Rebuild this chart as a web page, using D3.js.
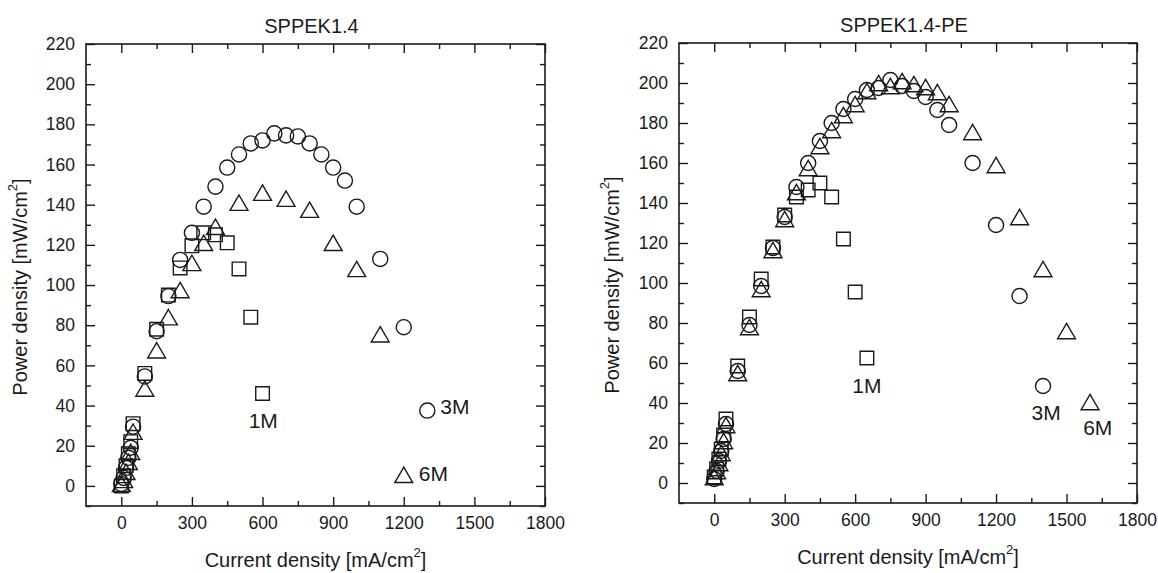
<!DOCTYPE html>
<html>
<head>
<meta charset="utf-8">
<script src="https://cdn.jsdelivr.net/npm/d3@7"></script>
<style>
  body { margin: 0; background: #fff; }
  text { font-family: "Liberation Sans", Arial, sans-serif; fill: #1a1a1a; }
</style>
</head>
<body>
<div id="svg_div"></div>
<script>
// data: [current density, power density]
var left1M = [[0,0],[10,5],[20,10],[30,16],[40,22],[50,31],[100,56],[150,78],[200,95],[250,108.5],
  [300,119.5],[350,126],[400,125],[450,121],[500,108],[550,84],[600,46]];
var left3M = [[0,1],[10,4],[20,9],[30,14],[40,19],[50,29.5],[100,54.5],[150,77],[200,94.5],[250,112.5],
  [300,126],[350,139],[400,149],[450,158.5],[500,165],[550,170.5],[600,172],[650,175.5],[700,174.5],
  [750,174],[800,170.5],[850,165],[900,158.5],[950,152],[1000,139],[1100,113],[1200,79],[1300,37.5]];
var left6M = [[0,1],[10,3],[20,7],[30,12],[40,17],[50,27],[100,48.5],[150,67.5],[200,84],[250,97.5],
  [300,111],[350,121],[400,129],[500,141],[600,146],[700,143],[800,137.5],[900,121],[1000,108],
  [1100,75.5],[1200,5.5]];

var right1M = [[0,3],[10,7],[20,12],[30,17],[40,24],[50,32],[100,58.5],[150,83],[200,102],[250,118],
  [300,134],[350,143],[400,146.5],[450,150],[500,143],[550,122],[600,95.5],[650,62.5]];
var right3M = [[0,2],[10,6],[20,11],[30,16],[40,22],[50,29.5],[100,56],[150,79],[200,98.5],[250,117.5],
  [300,133],[350,148],[400,160],[450,171],[500,180],[550,187],[600,192],[650,196.5],[700,197.5],
  [750,201.5],[800,198.5],[850,196],[900,193],[950,186.5],[1000,179],[1100,160],[1200,129],
  [1300,93.5],[1400,48.5]];
var right6M = [[0,3],[10,6],[20,10],[30,15],[40,21],[50,29],[100,55],[150,78],[200,97],[250,116.5],
  [300,132],[350,145.5],[400,157.5],[450,168.5],[500,176.5],[550,184],[600,189.5],[650,196],
  [700,200],[750,198.5],[800,201],[850,199.5],[900,198],[950,195.5],[1000,189.5],[1100,175.5],
  [1200,159],[1300,133],[1400,107],[1500,76],[1600,40.5]];

var xMajor = [0, 300, 600, 900, 1200, 1500, 1800];
var xMinor = [150, 450, 750, 1050, 1350, 1650];
var yMajor = [0, 20, 40, 60, 80, 100, 120, 140, 160, 180, 200, 220];
var yMinor = [-10, 10, 30, 50, 70, 90, 110, 130, 150, 170, 190, 210];

// series labels: text, x value, y value (text middle), anchor
var leftLabels = [["1M", 603, 32.5, "middle"], ["3M", 1355, 39.5, "start"], ["6M", 1264, 6, "start"]];
var rightLabels = [["1M", 650, 48.8, "middle"], ["3M", 1413, 35.4, "middle"], ["6M", 1633, 28, "middle"]];

var svg = d3.select("#svg_div")
  .append("svg")
  .attr("width", 1158)
  .attr("height", 573);

// triangle centered on its bounding box
var triangleBox = {
  draw: function(context, size) {
    var w = Math.sqrt(size), h = w * 0.86;
    context.moveTo(0, -h / 2);
    context.lineTo(w / 2, h / 2);
    context.lineTo(-w / 2, h / 2);
    context.closePath();
  }
};

function addPanel(frame, title, s1, s3, s6, labels) {
  var w = frame.w, h = frame.h;
  var g = svg.append("g").attr("transform", `translate(${frame.x}, ${frame.y})`);

  var x = d3.scaleLinear().domain([-150, 1800]).range([0, w]);
  var y = d3.scaleLinear().domain([-10, 220]).range([h, 0]);
  var fmt = d3.format("d");

  // major ticks with labels, then minor ticks, all pointing inward
  var ax = [
    [d3.axisBottom(x).tickValues(xMajor).tickSize(-9), `translate(0, ${h})`, true],
    [d3.axisBottom(x).tickValues(xMinor).tickSize(-5), `translate(0, ${h})`, false],
    [d3.axisTop(x).tickValues(xMajor).tickSize(-9), "translate(0, 0)", false],
    [d3.axisTop(x).tickValues(xMinor).tickSize(-5), "translate(0, 0)", false],
    [d3.axisLeft(y).tickValues(yMajor).tickSize(-9), "translate(0, 0)", true],
    [d3.axisLeft(y).tickValues(yMinor).tickSize(-5), "translate(0, 0)", false],
    [d3.axisRight(y).tickValues(yMajor).tickSize(-9), `translate(${w}, 0)`, false],
    [d3.axisRight(y).tickValues(yMinor).tickSize(-5), `translate(${w}, 0)`, false]
  ];
  ax.forEach(function(a) {
    var gg = g.append("g").attr("transform", a[1])
      .call(a[0].tickPadding(11).tickFormat(fmt));
    gg.select(".domain").remove();
    gg.selectAll("line").attr("stroke", "#1a1a1a").attr("stroke-width", 1.4);
    if (a[2]) {
      gg.selectAll("text").attr("font-size", "17.5px")
        .attr("font-family", "'Liberation Sans', Arial, sans-serif").attr("fill", "#1a1a1a");
    } else {
      gg.selectAll("text").remove();
    }
  });

  // frame
  g.append("rect")
    .attr("width", w).attr("height", h)
    .attr("fill", "none").attr("stroke", "#1a1a1a").attr("stroke-width", 1.6);

  // markers
  var sets = [[s1, d3.symbolSquare, 185], [s3, d3.symbolCircle, 180], [s6, triangleBox, 320]];
  sets.forEach(function(s) {
    g.append("g").selectAll("path")
      .data(s[0]).enter()
      .append("path")
      .attr("transform", function(d) { return `translate(${x(d[0])}, ${y(d[1])})`; })
      .attr("d", d3.symbol().type(s[1]).size(s[2]))
      .attr("fill", "none")
      .attr("stroke", "#1a1a1a")
      .attr("stroke-width", 1.4);
  });

  // series labels
  g.selectAll(".lbl").data(labels).enter()
    .append("text")
    .attr("class", "lbl")
    .attr("x", function(d) { return x(d[1]); })
    .attr("y", function(d) { return y(d[2]); })
    .attr("dy", "0.36em")
    .attr("text-anchor", function(d) { return d[3]; })
    .attr("font-size", "21px")
    .text(function(d) { return d[0]; });

  // title
  g.append("text")
    .attr("x", w / 2 - 4).attr("y", -11)
    .attr("text-anchor", "middle")
    .attr("font-size", "20px")
    .text(title);

  // x label
  var xl = g.append("text")
    .attr("x", w / 2).attr("y", h + 61)
    .attr("text-anchor", "middle")
    .attr("font-size", "20px");
  xl.append("tspan").text("Current density [mA/cm");
  xl.append("tspan").attr("font-size", "13px").attr("dy", "-0.75em").text("2");
  xl.append("tspan").attr("dy", "0.5em").text("]");

  // y label
  var yl = g.append("text")
    .attr("transform", `translate(${frame.ylab}, ${h / 2 + 12}) rotate(-90)`)
    .attr("text-anchor", "middle")
    .attr("font-size", "20px");
  yl.append("tspan").text("Power density [mW/cm");
  yl.append("tspan").attr("font-size", "13px").attr("dy", "-0.75em").text("2");
  yl.append("tspan").attr("dy", "0.5em").text("]");
}

addPanel({x: 86, y: 44, w: 459, h: 462, ylab: -59}, "SPPEK1.4", left1M, left3M, left6M, leftLabels);
addPanel({x: 679, y: 43, w: 458, h: 460, ylab: -60}, "SPPEK1.4-PE", right1M, right3M, right6M, rightLabels);
</script>
</body>
</html>
